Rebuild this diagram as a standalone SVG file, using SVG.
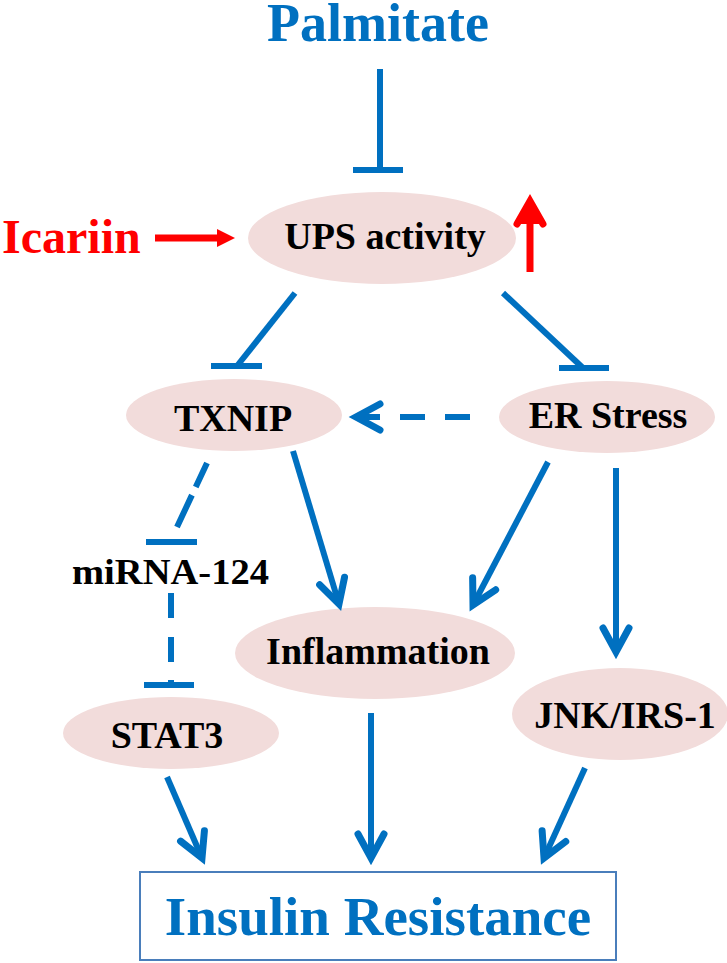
<svg xmlns="http://www.w3.org/2000/svg" width="727" height="963" viewBox="0 0 727 963">
<style>
.node{fill:#F2DCDB;stroke:none}
.lbl{font-family:"Liberation Serif","Times New Roman",serif;font-weight:bold;fill:#000;text-anchor:middle;font-size:38px}
.ln{stroke:#0070C0;stroke-width:6;fill:none}
.bar{stroke:#0070C0;stroke-width:6;fill:none}
.dash{stroke:#0070C0;stroke-width:6;fill:none}
.red{stroke:#FF0000;stroke-width:7;fill:none}
</style>
<defs>
<marker id="ah" markerUnits="userSpaceOnUse" viewBox="-30 -20 40 40" markerWidth="40" markerHeight="40" refX="0" refY="0" orient="auto" overflow="visible">
<path d="M-24,-13 L0,0 L-24,13" fill="none" stroke="#0070C0" stroke-width="7" stroke-linecap="round" stroke-linejoin="miter"/>
</marker>
</defs>
<rect width="727" height="963" fill="#fff"/>
<g id="palmitate"><text class="lbl" x="378" y="41" style="font-size:54px;fill:#0070C0">Palmitate</text></g>
<g id="icariin"><text class="lbl" x="2" y="253" style="font-size:48px;fill:#FF0000;text-anchor:start">Icariin</text></g>
<g id="ups"><ellipse class="node" cx="382" cy="238" rx="134" ry="46"/><text class="lbl" x="385" y="249">UPS activity</text></g>
<g id="txnip"><ellipse class="node" cx="234" cy="415" rx="108" ry="36"/><text class="lbl" x="233" y="431">TXNIP</text></g>
<g id="erstress"><ellipse class="node" cx="607" cy="417" rx="108" ry="36"/><text class="lbl" x="608" y="428">ER Stress</text></g>
<g id="mirna"><text class="lbl" x="72" y="584" style="font-size:35px;text-anchor:start" textLength="197" lengthAdjust="spacingAndGlyphs">miRNA-124</text></g>
<g id="inflammation"><ellipse class="node" cx="375" cy="653" rx="140" ry="46"/><text class="lbl" x="378" y="664">Inflammation</text></g>
<g id="jnk"><ellipse class="node" cx="620" cy="714" rx="108" ry="46"/><text class="lbl" x="625" y="728">JNK/IRS-1</text></g>
<g id="stat3"><ellipse class="node" cx="171" cy="733" rx="108" ry="36"/><text class="lbl" x="167" y="748">STAT3</text></g>
<g id="insulin"><rect x="140" y="872" width="476" height="88" fill="#fff" stroke="#4A7EBB" stroke-width="2"/><text class="lbl" x="378" y="935" style="font-size:55px;fill:#0070C0">Insulin Resistance</text></g>
<g id="connectors">
<line class="ln" x1="380" y1="69" x2="380" y2="170"/>
<line class="bar" x1="353" y1="170" x2="403" y2="170"/>
<line class="ln" x1="295" y1="293" x2="237" y2="366"/>
<line class="bar" x1="211" y1="366" x2="262" y2="366"/>
<line class="ln" x1="503" y1="293" x2="583" y2="368"/>
<line class="bar" x1="559" y1="368" x2="609" y2="368"/>
<line class="dash" x1="470" y1="417" x2="356" y2="417" stroke-dasharray="25 20" marker-end="url(#ah)"/>
<line class="ln" x1="293" y1="451" x2="339" y2="604" marker-end="url(#ah)"/>
<line class="ln" x1="548" y1="462" x2="473" y2="605" marker-end="url(#ah)"/>
<line class="ln" x1="616" y1="468" x2="616" y2="652" marker-end="url(#ah)"/>
<line class="dash" x1="207" y1="463" x2="177" y2="527" stroke-dasharray="26.5 9 40"/>
<line class="bar" x1="146" y1="542" x2="197" y2="542"/>
<line class="dash" x1="171" y1="593" x2="171" y2="685" stroke-dasharray="25 19 25 18 10"/>
<line class="bar" x1="144" y1="685" x2="194" y2="685"/>
<line class="ln" x1="167" y1="777" x2="202" y2="858" marker-end="url(#ah)"/>
<line class="ln" x1="371" y1="713" x2="371" y2="858" marker-end="url(#ah)"/>
<line class="ln" x1="585" y1="768" x2="544" y2="858" marker-end="url(#ah)"/>
<line class="red" x1="155" y1="238" x2="220" y2="238"/>
<polygon points="217,229 235,238 217,247" fill="#FF0000"/>
<line class="red" x1="530" y1="272" x2="530" y2="204"/>
<polyline points="517,224 530,201 543,224" fill="#FF0000" stroke="#FF0000" stroke-width="7" stroke-linecap="round" stroke-linejoin="miter"/>
</g>
</svg>
